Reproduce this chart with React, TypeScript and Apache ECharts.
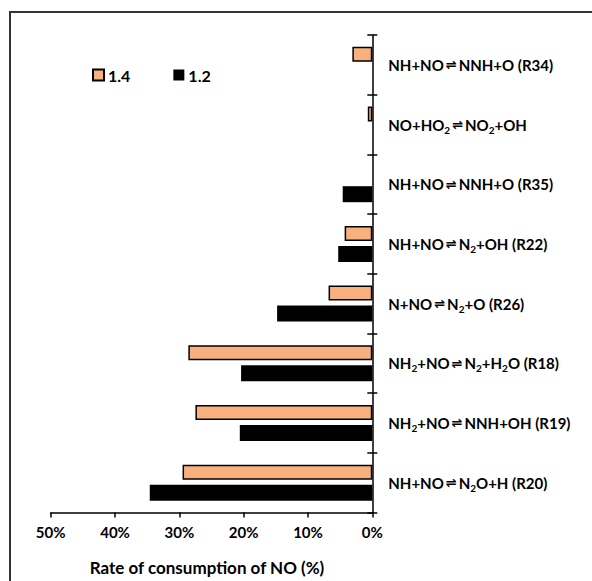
import React, { useEffect, useRef } from "react";
import * as echarts from "echarts";

const categories = [
  "NH{c|+}NO{a|⇌}N{s|2}O{c|+}H (R20)",
  "NH{s|2}{c|+}NO{a|⇌}NNH{c|+}OH (R19)",
  "NH{s|2}{c|+}NO{a|⇌}N{s|2}{c|+}H{s|2}O (R18)",
  "N{c|+}NO{a|⇌}N{s|2}{c|+}O (R26)",
  "NH{c|+}NO{a|⇌}N{s|2}{c|+}OH (R22)",
  "NH{c|+}NO{a|⇌}NNH{c|+}O (R35)",
  "NO{c|+}HO{s|2}{a|⇌}NO{s|2}{c|+}OH",
  "NH{c|+}NO{a|⇌}NNH{c|+}O (R34)",
];
const seriesNames = ["1.4", "1.2"];
const values14 = [29.5, 27.5, 28.6, 6.8, 4.3, null, 0.7, 3.1];
const values12 = [34.6, 20.6, 20.4, 14.8, 5.3, 4.6, null, null];
const xTicks = { min: 0, max: 50, interval: 10 };

const FONT = "Lato";

export default function App() {
  const ref = useRef<HTMLDivElement>(null);
  useEffect(() => {
    document.body.style.margin = "0";
    const chart = echarts.init(ref.current!, null, { renderer: "svg" });
    const labelRich = {
      s: { fontSize: 10, fontWeight: "bold", fontFamily: FONT, color: "#000", verticalAlign: "bottom", lineHeight: 12 },
      a: { fontSize: 13, fontFamily: "DejaVu Sans", color: "#000", lineHeight: 20, padding: [0, 2, 0, 2] },
      c: { fontSize: 15, fontWeight: "bold", fontFamily: FONT, color: "#000", lineHeight: 20 },
    };
    chart.setOption({
      animation: false,
      textStyle: { fontFamily: FONT },
      graphic: [
        {
          type: "rect",
          shape: { x: 10, y: 12, width: 700, height: 700 },
          style: { fill: "none", stroke: "#333", lineWidth: 2 },
          silent: true,
        },
      ],
      legend: {
        data: seriesNames,
        left: 92,
        top: 67,
        padding: 0,
        icon: "rect",
        itemWidth: 11,
        itemHeight: 11,
        itemGap: 43,
        textStyle: { fontFamily: FONT, fontWeight: "bold", fontSize: 16, color: "#000", padding: [0, 0, 0, -1] },
      },
      grid: { left: 50.7, right: 219.7, top: 35, bottom: 68.5 },
      xAxis: {
        type: "value",
        inverse: true,
        min: xTicks.min,
        max: xTicks.max,
        interval: xTicks.interval,
        splitLine: { show: false },
        axisLine: { show: true, lineStyle: { color: "#000", width: 1.5 } },
        axisTick: { show: true, length: 5, lineStyle: { color: "#000", width: 1.5 } },
        axisLabel: { formatter: "{value}%", fontFamily: FONT, fontWeight: "bold", fontSize: 15, color: "#000", margin: 12 },
        name: "Rate of consumption of NO (%)",
        nameLocation: "middle",
        nameGap: 46,
        nameTextStyle: { fontFamily: FONT, fontWeight: "bold", fontSize: 17, color: "#000", padding: [0, 9, 0, 0] },
      },
      yAxis: [
        {
          type: "category",
          data: categories,
          position: "right",
          axisLine: { show: true, onZero: false, lineStyle: { color: "#000", width: 1.5 } },
          axisTick: { show: true, length: 5, lineStyle: { color: "#000", width: 1.5 } },
          axisLabel: {
            margin: 16,
            align: "left",
            fontFamily: FONT,
            fontWeight: "bold",
            fontSize: 15,
            color: "#000",
            lineHeight: 20,
            rich: labelRich,
          },
          splitLine: { show: false },
        },
        {
          type: "category",
          data: categories,
          position: "right",
          axisLine: { show: false, onZero: false },
          axisTick: { show: true, inside: true, length: 5, lineStyle: { color: "#000", width: 1.5 } },
          axisLabel: { show: false },
          splitLine: { show: false },
        },
      ],
      series: [
        {
          name: seriesNames[0],
          type: "bar",
          data: values14,
          barWidth: 15,
          barGap: "33%",
          itemStyle: { color: "#F9B07F", borderColor: "#000", borderWidth: 1.5 },
        },
        {
          name: seriesNames[1],
          type: "bar",
          data: values12,
          barWidth: 16,
          itemStyle: { color: "#000" },
        },
      ],
    });
    return () => chart.dispose();
  }, []);
  return <div ref={ref} style={{ width: 592, height: 581 }} />;
}
